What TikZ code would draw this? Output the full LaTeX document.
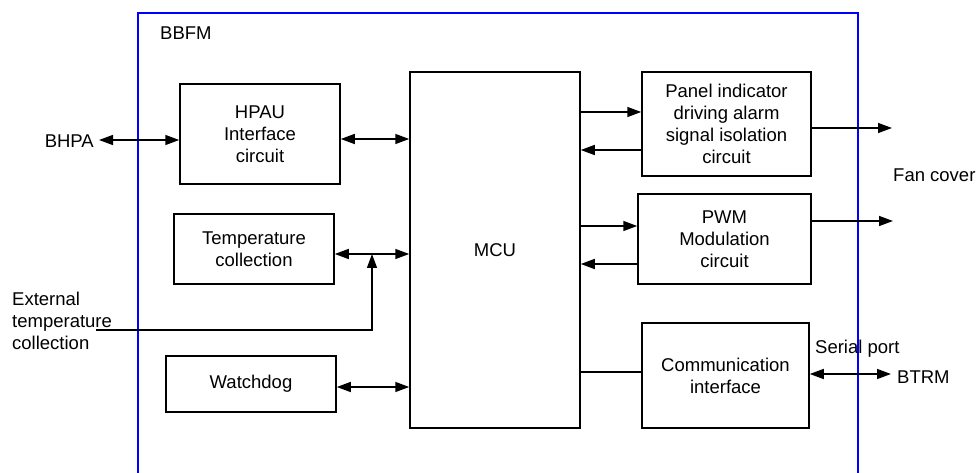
\documentclass[tikz,border=0pt]{standalone}
\usepackage{fontspec}
\setmainfont{Liberation Sans}
\usetikzlibrary{arrows.meta}
\begin{document}
\begin{tikzpicture}[x=1pt,y=-1pt,
  font=\fontsize{18.5}{22}\selectfont,
  block/.style={draw, line width=1.5pt, rectangle, inner sep=0pt, align=center},
  wire/.style={line width=1.5pt},
  tip/.tip={Triangle[length=14pt,width=10pt]},
  arr/.style={wire, -tip},
  dbl/.style={wire, tip-tip},
  lbl/.style={inner sep=0pt, align=left}]
\useasboundingbox (0,0) rectangle (978,473);
% BBFM board outline
\draw[blue, line width=1.6pt] (138,480) -- (138,13) -- (858,13) -- (858,480);
\node[lbl, anchor=west] (bbfm) at (160,33) {BBFM};

% functional blocks
\node[block, minimum width=160, minimum height=100] (hpau) at (260,134) {HPAU\\Interface\\circuit};
\node[block, minimum width=170, minimum height=356] (mcu) at (495,250) {MCU};
\node[block, minimum width=169, minimum height=104] (panel) at (726.5,124) {Panel indicator\\driving alarm\\signal isolation\\circuit};
\node[block, minimum width=173, minimum height=90] (pwm) at (724.5,239) {PWM\\Modulation\\circuit};
\node[block, minimum width=160, minimum height=70] (temp) at (254,249) {Temperature\\collection};
\node[block, minimum width=170, minimum height=56] (wdog) at (251,384) {Watchdog};
\node[block, minimum width=167, minimum height=105] (comm) at (725.5,375.5) {Communication\\interface};

% external labels
\node[lbl, anchor=east] (bhpa) at (94,141) {BHPA};
\node[lbl, anchor=west] (fan) at (893,175) {Fan cover};
\node[lbl, anchor=west] (ext) at (12,321) {External\\temperature\\collection};
\node[lbl, anchor=west] (serial) at (815,349) {Serial port};
\node[lbl, anchor=west] (btrm) at (897,377) {BTRM};

% free ends of connectors
\coordinate (bhpaEnd) at (99,140);
\coordinate (fanA) at (892,128);
\coordinate (fanB) at (893,221);
\coordinate (btrmEnd) at (891,374);
\coordinate (extStart) at (96,330);
\coordinate (junc) at (372,254);

% connectors
\draw[dbl] (bhpaEnd) -- (hpau.west |- bhpaEnd);
\draw[dbl] ([yshift=-5pt]hpau.east) -- ([yshift=-5pt]hpau.east -| mcu.west);
\draw[arr] ([yshift=12pt]panel.west -| mcu.east) -- ([yshift=12pt]panel.west);
\draw[arr] ([yshift=-26pt]panel.west) -- ([yshift=-26pt]panel.west -| mcu.east);
\draw[arr] ([yshift=-4pt]panel.east) -- (fanA);
\draw[arr] ([yshift=13pt]pwm.west -| mcu.east) -- ([yshift=13pt]pwm.west);
\draw[arr] ([yshift=-25pt]pwm.west) -- ([yshift=-25pt]pwm.west -| mcu.east);
\draw[arr] ([yshift=18pt]pwm.east) -- (fanB);
\draw[dbl] ([yshift=-5pt]temp.east) -- ([yshift=-5pt]temp.east -| mcu.west);
\draw[arr] (extStart) -| (junc);
\draw[dbl] ([yshift=-3pt]wdog.east) -- ([yshift=-3pt]wdog.east -| mcu.west);
\draw[wire] ([yshift=3.5pt]comm.west -| mcu.east) -- ([yshift=3.5pt]comm.west);
\draw[dbl] ([yshift=1.5pt]comm.east) -- (btrmEnd);
\end{tikzpicture}
\end{document}
